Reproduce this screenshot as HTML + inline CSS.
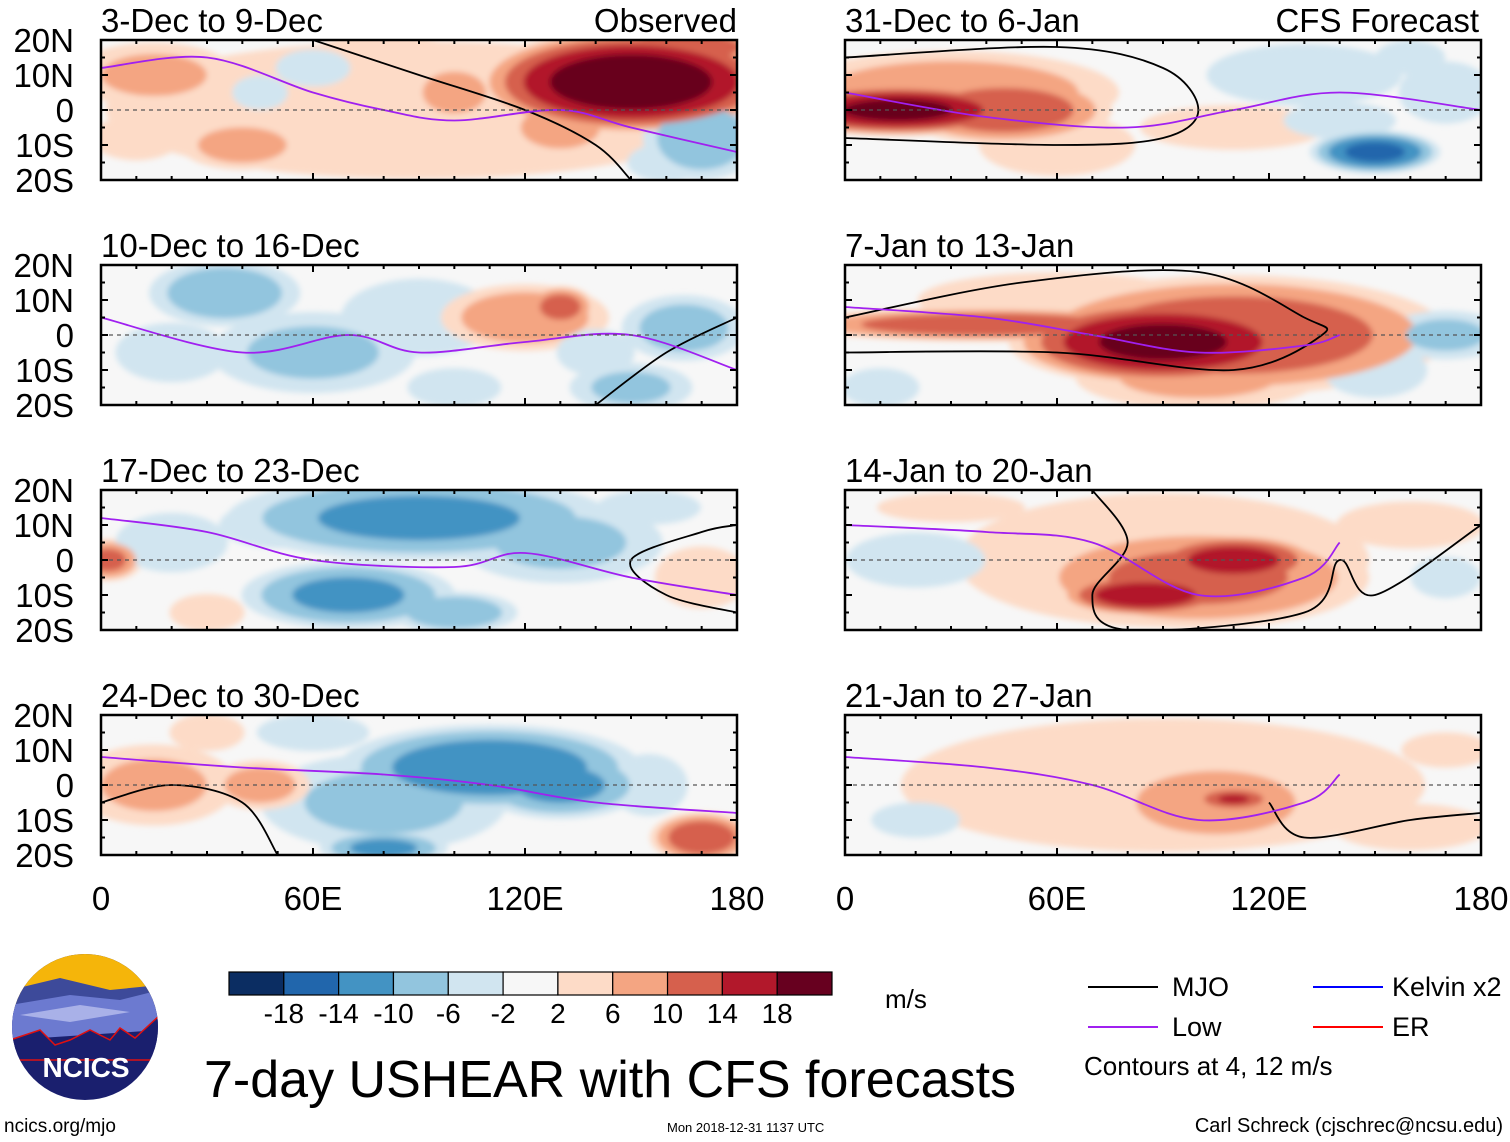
<!DOCTYPE html>
<html><head><meta charset="utf-8"><style>
html,body{margin:0;padding:0;background:#fff;}
svg{display:block;font-family:"Liberation Sans",sans-serif;}
</style></head><body>
<svg id="fig" width="1510" height="1142" viewBox="0 0 1510 1142" xmlns="http://www.w3.org/2000/svg">
<defs>
<filter id="blur" x="-10%" y="-10%" width="120%" height="120%"><feGaussianBlur stdDeviation="3"/></filter>
<clipPath id="logoclip"><circle cx="85" cy="1027" r="73"/></clipPath>
</defs>
<g id="panels"></g>
<g id="colorbar"></g>
<text x="885" y="1008" font-size="26">m/s</text>
<g clip-path="url(#logoclip)">
<rect x="10" y="950" width="150" height="160" fill="#1a1f6e"/>
<rect x="10" y="950" width="150" height="60" fill="#f5b50a"/>
<path d="M10 990 L60 978 L110 990 L160 985 L160 1010 L10 1015Z" fill="#3d4a9a"/>
<path d="M10 1005 L70 995 L120 1000 L160 990 L160 1030 L10 1040Z" fill="#6c7ad0"/>
<path d="M20 1015 L80 1005 L130 1012 L70 1022Z" fill="#a9b1e8"/>
<path d="M10 1040 L40 1030 L55 1045 L70 1040 L90 1030 L110 1040 L120 1028 L135 1038 L160 1015 L160 1060 L10 1060Z" fill="#1a1f6e" stroke="#e01010" stroke-width="1.5"/>
</g>
<text x="86" y="1077" font-size="28" font-weight="bold" fill="#fff" text-anchor="middle">NCICS</text>
<text x="4" y="1132" font-size="19">ncics.org/mjo</text>
<text x="204" y="1097" font-size="52">7-day USHEAR with CFS forecasts</text>
<text x="667" y="1132" font-size="13">Mon 2018-12-31 1137 UTC</text>
<text x="1503" y="1132" font-size="20" text-anchor="end">Carl Schreck (cjschrec@ncsu.edu)</text>
<g>
<line x1="1088" y1="987" x2="1158" y2="987" stroke="#000" stroke-width="2"/><text x="1172" y="996" font-size="27">MJO</text>
<line x1="1088" y1="1027" x2="1158" y2="1027" stroke="#a020f0" stroke-width="2"/><text x="1172" y="1036" font-size="27">Low</text>
<line x1="1313" y1="987" x2="1383" y2="987" stroke="#0000ff" stroke-width="2"/><text x="1392" y="996" font-size="27">Kelvin x2</text>
<line x1="1313" y1="1027" x2="1383" y2="1027" stroke="#ff0000" stroke-width="2"/><text x="1392" y="1036" font-size="27">ER</text>
<text x="1084" y="1075" font-size="26">Contours at 4, 12 m/s</text>
</g>
</svg>
<script>
// ---- colorbar data ----
const levels = [-18,-14,-10,-6,-2,2,6,10,14,18];
const colors = ["#0b2d62","#2166ac","#4393c3","#92c5de","#d1e5f0","#f7f7f7","#fddbc7","#f4a582","#d6604d","#b2182b","#67001f"];
// ---- panel data ----
const panelTitles = ["3-Dec to 9-Dec","10-Dec to 16-Dec","17-Dec to 23-Dec","24-Dec to 30-Dec","31-Dec to 6-Jan","7-Jan to 13-Jan","14-Jan to 20-Jan","21-Jan to 27-Jan"];
const latLabels = ["20N","10N","0","10S","20S"];
const lonLabels = ["0","60E","120E","180"];
// blobs: [lon, lat, peak m/s, lon-radius deg, lat-radius deg]
const blobs0 = [[90,0,4,90,20],[15,10,8,20,8],[40,-10,9,15,6],[80,15,6,20,6],[100,5,7,15,10],[150,8,22,35,12],[165,18,14,20,5],[130,-5,8,15,8],[170,-8,-10,14,10],[60,12,-5,10,5],[160,-15,-6,10,5],[45,5,-4,8,5],[10,-8,5,12,6]];
const blobs1 = [[35,12,-10,18,8],[60,-5,-8,25,10],[90,5,-6,20,10],[120,5,10,20,8],[130,8,13,8,5],[165,2,-9,15,8],[150,-15,-8,15,6],[20,-5,-5,15,8],[140,-5,-6,10,6],[100,-15,-6,12,5]];
const blobs2 = [[90,12,-12,45,10],[70,-10,-12,25,8],[100,-15,-10,15,5],[130,5,-8,25,10],[2,0,12,8,5],[170,-5,6,12,8],[30,-15,5,10,5],[20,5,-5,15,8],[155,15,-4,15,5],[50,10,-6,15,6]];
const blobs3 = [[110,5,-14,35,10],[130,0,-12,20,8],[80,-5,-8,30,12],[15,0,8,20,10],[45,0,9,12,6],[170,-15,14,12,6],[30,15,5,10,5],[155,0,-6,10,8],[80,-18,-12,15,4],[60,15,-5,15,5]];
const blobs4 = [[15,0,20,30,6],[45,0,14,25,8],[30,5,10,40,10],[60,-10,6,20,8],[150,-12,-16,15,5],[130,10,-6,25,8],[170,5,-6,12,8],[110,-5,5,25,6],[160,15,-4,10,5],[140,-3,-5,15,5]];
const blobs5 = [[90,-2,20,35,10],[40,3,14,45,4],[110,0,14,50,14],[100,-12,8,30,8],[170,0,-8,15,6],[10,-15,-6,10,5],[150,-10,-4,15,8],[60,10,4,40,8]];
const blobs6 = [[85,-10,18,20,5],[110,0,17,20,6],[100,-5,12,40,12],[90,0,5,55,18],[20,0,-4,20,8],[160,10,3,25,8],[170,-5,-4,10,6],[30,15,3,25,5]];
const blobs7 = [[110,-4,15,10,3],[105,-5,10,25,10],[90,0,5,70,18],[20,-10,-3,15,6],[160,-12,6,20,6],[170,10,3,15,6]];
const panelBlobs = [blobs0,blobs1,blobs2,blobs3,blobs4,blobs5,blobs6,blobs7];
// contour lines: [lon,lat] points
const lowLine0 = [[0,12],[30,15],[60,5],[80,0],[100,-3],[130,0],[150,-5],[180,-12]];
const lowLine1 = [[0,5],[40,-5],[70,0],[90,-5],[120,-2],[150,0],[180,-10]];
const lowLine2 = [[0,12],[30,8],[60,0],[100,-2],[120,2],[150,-5],[180,-10]];
const lowLine3 = [[0,8],[40,5],[80,3],[110,0],[140,-5],[180,-8]];
const lowLine4 = [[0,5],[40,-2],[80,-5],[110,0],[140,5],[180,0]];
const lowLine5 = [[0,8],[40,5],[70,0],[100,-5],[130,-3],[140,0]];
const lowLine6 = [[0,10],[40,8],[70,5],[100,-10],[130,-5],[140,5]];
const lowLine7 = [[0,8],[40,5],[70,0],[100,-10],[130,-5],[140,3]];
const lowLines = [lowLine0,lowLine1,lowLine2,lowLine3,lowLine4,lowLine5,lowLine6,lowLine7];
const mjoLine0 = [[60,20],[90,10],[120,0],[140,-10],[150,-20]];
const mjoLine1 = [[140,-20],[160,-5],[180,5]];
const mjoLine2 = [[180,-15],[160,-10],[150,0],[170,8],[180,10]];
const mjoLine3 = [[0,-5],[20,0],[40,-5],[50,-20]];
const mjoLine4 = [[0,15],[60,18],[90,12],[100,0],[90,-8],[60,-10],[0,-8]];
const mjoLine5 = [[0,5],[50,15],[100,18],[130,5],[135,0],[110,-10],[60,-5],[0,-5]];
const mjoLine6 = [[70,20],[80,5],[70,-10],[80,-20],[130,-15],[140,0],[150,-10],[180,10]];
const mjoLine7 = [[120,-5],[130,-15],[160,-10],[180,-8]];
const mjoLines = [mjoLine0,mjoLine1,mjoLine2,mjoLine3,mjoLine4,mjoLine5,mjoLine6,mjoLine7];

const NS="http://www.w3.org/2000/svg";
const PW=636, PH=140;
const panelX=[101,101,101,101,845,845,845,845];
const panelY=[40,265,490,715,40,265,490,715];
function xScale(i,lon){return panelX[i]+lon/180*PW;}
function yScale(i,lat){return panelY[i]+(20-lat)/40*PH;}
function colorFor(v){let k=0;while(k<levels.length&&v>levels[k])k++;return colors[k];}
function mk(tag,attrs,parent){const e=document.createElementNS(NS,tag);for(const k in attrs)e.setAttribute(k,attrs[k]);parent.appendChild(e);return e;}
function smoothPath(i,pts){
  const P=pts.map(p=>[xScale(i,p[0]),yScale(i,p[1])]);
  let d='M'+P[0][0]+' '+P[0][1];
  for(let k=1;k<P.length;k++){
    const p0=P[k-2]||P[k-1],p1=P[k-1],p2=P[k],p3=P[k+1]||P[k];
    const c1=[p1[0]+(p2[0]-p0[0])/6,p1[1]+(p2[1]-p0[1])/6];
    const c2=[p2[0]-(p3[0]-p1[0])/6,p2[1]-(p3[1]-p1[1])/6];
    d+=' C'+c1[0]+' '+c1[1]+' '+c2[0]+' '+c2[1]+' '+p2[0]+' '+p2[1];
  }
  return d;
}

const root=document.getElementById('panels');
const defs=document.querySelector('defs');
for(let i=0;i<8;i++){
  const g=mk('g',{},root);
  
  
  const cp=mk('clipPath',{id:'clip'+i},defs);
  mk('rect',{x:panelX[i],y:panelY[i],width:PW,height:PH},cp);
  const field=mk('g',{'clip-path':'url(#clip'+i+')'},g);
  
  
  mk('rect',{x:panelX[i],y:panelY[i],width:PW,height:PH,fill:colors[5]},field);
  const inner=mk('g',{filter:'url(#blur)'},field);
  const shapes=[];
  panelBlobs[i].forEach(b=>{
    const [lon,lat,peak,rx,ry]=b;
    const sign=Math.sign(peak), mag=Math.abs(peak);
    [2,6,10,14,18].forEach(th=>{
      if(mag>th){
        const f=Math.pow(1-th/mag,0.4)*1.3;
        shapes.push({lon,lat,rx:rx*f,ry:ry*f,v:sign*(th+1),th});
      }
    });
  });
  shapes.sort((a,b)=>a.th-b.th);
  shapes.forEach(s=>{
    const e=mk('ellipse',{cx:xScale(i,s.lon),cy:yScale(i,s.lat),rx:s.rx/180*PW,ry:s.ry/40*PH,fill:colorFor(s.v)},inner);
    
    
  });
  const ml=mk('path',{d:smoothPath(i,mjoLines[i]),fill:'none',stroke:'#000','stroke-width':1.8},field);
  
  
  const pl=mk('path',{d:smoothPath(i,lowLines[i]),fill:'none',stroke:'#a020f0','stroke-width':1.8},field);
  
  
  const eq=mk('line',{x1:panelX[i],x2:panelX[i]+PW,y1:yScale(i,0),y2:yScale(i,0),stroke:'#555','stroke-dasharray':'4 4','stroke-width':1.2},g);
  
  
  const fr=mk('rect',{x:panelX[i],y:panelY[i],width:PW,height:PH,fill:'none',stroke:'#000','stroke-width':2.5},g);
  
  
  for(let lon=0;lon<=180;lon+=10){
    const len=lon%60===0?7:4;
    mk('line',{x1:xScale(i,lon),x2:xScale(i,lon),y1:panelY[i],y2:panelY[i]+len,stroke:'#000','stroke-width':2},g);
    mk('line',{x1:xScale(i,lon),x2:xScale(i,lon),y1:panelY[i]+PH,y2:panelY[i]+PH-len,stroke:'#000','stroke-width':2},g);
  }
  for(let lat=-20;lat<=20;lat+=5){
    const len=lat%10===0?7:4;
    mk('line',{x1:panelX[i],x2:panelX[i]+len,y1:yScale(i,lat),y2:yScale(i,lat),stroke:'#000','stroke-width':2},g);
    mk('line',{x1:panelX[i]+PW,x2:panelX[i]+PW-len,y1:yScale(i,lat),y2:yScale(i,lat),stroke:'#000','stroke-width':2},g);
  }
  const t=mk('text',{x:panelX[i],y:panelY[i]-8,'font-size':33},g);
  t.textContent=panelTitles[i];
  
  
  if(i<4){
    latLabels.forEach((lab,k)=>{
      const tl=mk('text',{x:74,y:yScale(i,20-k*10)+12,'font-size':33,'text-anchor':'end'},g);
      tl.textContent=lab;
      
      
    });
  }
}
const hdr1=mk('text',{x:737,y:32,'font-size':33,'text-anchor':'end'},root);hdr1.textContent='Observed';


const hdr2=mk('text',{x:1479,y:32,'font-size':33,'text-anchor':'end'},root);hdr2.textContent='CFS Forecast';


[3,7].forEach(i=>{
  lonLabels.forEach((lab,k)=>{
    const tl=mk('text',{x:xScale(i,k*60),y:910,'font-size':33,'text-anchor':'middle'},root);
    tl.textContent=lab;
    
    
  });
});
const cb=document.getElementById('colorbar');
const cbX=229,cbW=603,cbY=972,cbH=23,bw=cbW/colors.length;
colors.forEach((c,k)=>{
  const r=mk('rect',{x:cbX+k*bw,y:cbY,width:bw,height:cbH,fill:c,stroke:'#000','stroke-width':1.2},cb);
  
  
});
levels.forEach((v,k)=>{
  const tl=mk('text',{x:cbX+(k+1)*bw,y:1023,'font-size':28,'text-anchor':'middle'},cb);
  tl.textContent=String(v);
  
  
});
</script>
</body></html>
